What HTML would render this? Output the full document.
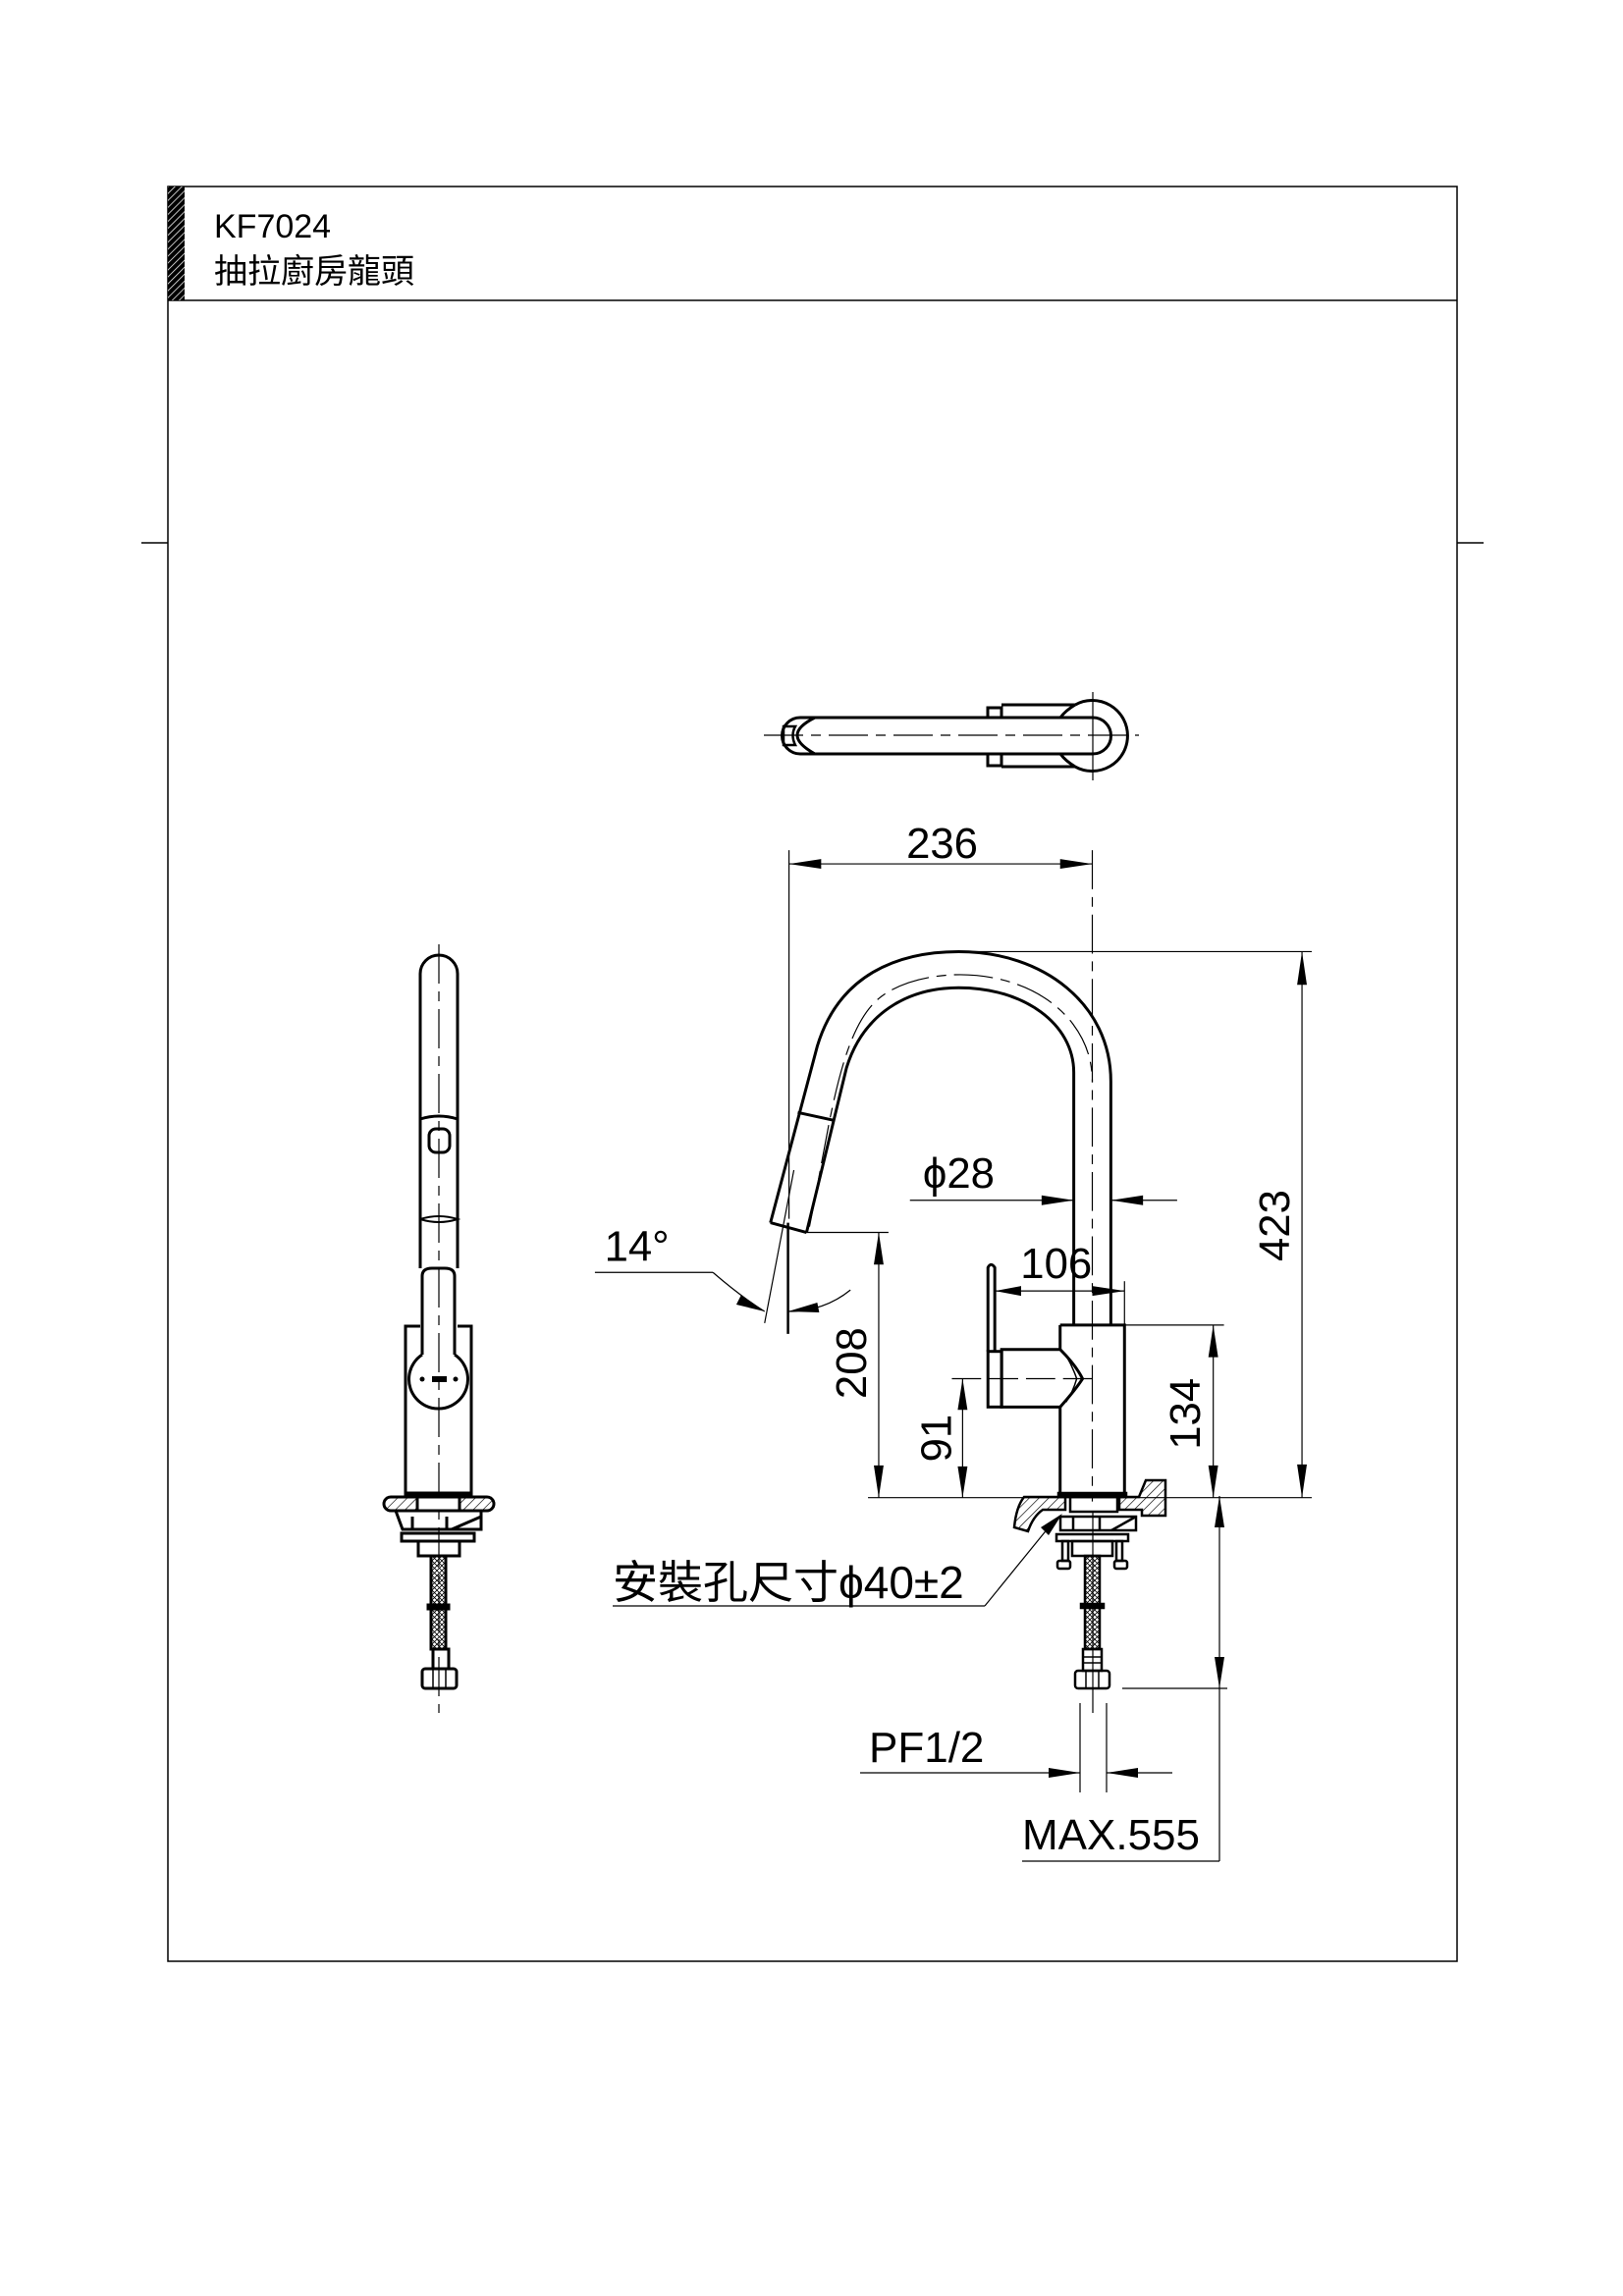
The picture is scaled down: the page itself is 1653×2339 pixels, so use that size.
<!DOCTYPE html>
<html><head><meta charset="utf-8"><style>
html,body{margin:0;padding:0;background:#fff}
svg{display:block}
text{font-family:"Liberation Sans","Noto Sans CJK TC",sans-serif;fill:#000}
</style></head><body>
<svg width="1653" height="2339" viewBox="0 0 1653 2339" xmlns="http://www.w3.org/2000/svg">
<defs>
<pattern id="h" width="7" height="7" patternUnits="userSpaceOnUse" patternTransform="rotate(45)"><line x1="0" y1="0" x2="0" y2="7" stroke="#000" stroke-width="1.3"/></pattern>
<pattern id="hb" width="5" height="5" patternUnits="userSpaceOnUse" patternTransform="rotate(45)"><rect width="5" height="5" fill="#000"/><line x1="0" y1="0" x2="0" y2="5" stroke="#fff" stroke-width="1.5"/></pattern>
<pattern id="x" width="5" height="5" patternUnits="userSpaceOnUse"><path d="M0 0L5 5M5 0L0 5" stroke="#000" stroke-width="0.8"/></pattern>
</defs>

<g fill="none" stroke="#000" stroke-width="1.5">
<rect x="171" y="190" width="1313" height="1808"/>
<line x1="171" y1="306" x2="1484" y2="306"/>
<line x1="144" y1="553" x2="171" y2="553"/>
<line x1="1484" y1="553" x2="1511" y2="553"/>
</g>
<rect x="171" y="190" width="17" height="116" fill="url(#hb)"/>
<text x="218" y="242" font-size="34">KF7024</text>
<text x="218" y="288" font-size="34" font-family="'Noto Sans CJK TC',sans-serif">抽拉廚房龍頭</text>

<g fill="none" stroke="#000" stroke-width="3">
<line x1="778" y1="749" x2="1160" y2="749" stroke-width="1.2" stroke-dasharray="40,8,10,8"/>
<line x1="1113" y1="705" x2="1113" y2="795" stroke-width="1.2"/>
<path d="M830 731 L1113 731 A18.5 18.5 0 0 1 1113 768 L830 768"/>
<path d="M830 731 Q812 740 812 749 Q812 758 830 768"/>
<path d="M830 731 L815 731 A18.5 18.5 0 0 0 815 768 L830 768"/>
<path d="M810 740 L798 740 L798 759 L810 759 Q805 749 810 740Z" stroke-width="2.5"/>
<path d="M1020 718 L1095 718"/>
<path d="M1020 781 L1095 781"/>
<path d="M1095 718 A36 36 0 1 1 1095 781 Q1085 775 1080 768" />
<path d="M1095 718 Q1085 724 1080 731"/>
<rect x="1006" y="721" width="14" height="10"/>
<rect x="1006" y="768" width="14" height="12"/>
</g>

<g transform="scale(0.9933)">
<g fill="none" stroke="#000" stroke-width="3">
<path d="M790 1254 L838 1073 C860 1000 920 976 983 976 C1070 976 1139 1030 1139 1109 L1139 1360"/>
<path d="M827 1264 L868 1095 C885 1040 930 1013 983 1013 C1050 1013 1101 1050 1101 1100 L1101 1360"/>
<path d="M790 1254 L827 1264"/>
<path d="M818 1141 L855 1149"/>
<path d="M1087 1359 L1153 1359 L1153 1536 M1087 1359 L1087 1384 M1087 1443 L1087 1536"/>
<path d="M1087 1384 L1027 1384 L1027 1443 L1087 1443 Q1103 1425 1110 1414 Q1103 1400 1087 1384"/>
<path d="M1093 1390 Q1100 1402 1104 1414 Q1100 1428 1093 1438" stroke-width="1.5"/>
<path d="M1013 1386 L1013 1300 Q1016 1294 1020 1300 L1020 1386"/>
<rect x="1013" y="1386" width="14" height="57"/>
</g>
<g fill="none" stroke="#000" stroke-width="1.2">
<path d="M830 1258 C850 1160 860 1060 900 1025 C940 990 1050 985 1100 1050 C1115 1070 1120 1090 1120 1110" stroke-dasharray="40,8,10,8"/>
<line x1="1120" y1="872" x2="1120" y2="1540" stroke-dasharray="40,8,10,8"/>
<line x1="809" y1="872" x2="809" y2="1250"/>
<line x1="809" y1="886" x2="1120" y2="886"/>
<line x1="983" y1="976" x2="1345" y2="976"/>
<line x1="1335" y1="976" x2="1335" y2="1536"/>
<line x1="890" y1="1536" x2="1345" y2="1536"/>
<line x1="933" y1="1231" x2="1101" y2="1231"/>
<line x1="1139" y1="1231" x2="1207" y2="1231"/>
<line x1="1153" y1="1359" x2="1255" y2="1359"/>
<line x1="1244" y1="1359" x2="1244" y2="1536"/>
<line x1="1020" y1="1324" x2="1153" y2="1324"/>
<line x1="1153" y1="1314" x2="1153" y2="1359"/>
<line x1="976" y1="1414" x2="1120" y2="1414" stroke-dasharray="30,8"/>
<line x1="987" y1="1414" x2="987" y2="1536"/>
<line x1="827" y1="1264" x2="911" y2="1264"/>
<line x1="901" y1="1264" x2="901" y2="1536"/>
<line x1="610" y1="1305" x2="731" y2="1305"/>
<path d="M731 1305 Q760 1330 784 1345"/>
<line x1="808" y1="1254" x2="808" y2="1368" stroke-width="2.5"/>
<line x1="814" y1="1200" x2="784" y2="1357"/>
<path d="M808 1345 Q845 1345 872 1323"/>
</g>
<g fill="#000">
<path d="M809 886 L842 881 L842 891Z"/>
<path d="M1120 886 L1087 881 L1087 891Z"/>
<path d="M1335 976 L1330 1010 L1340 1010Z"/>
<path d="M1335 1536 L1330 1502 L1340 1502Z"/>
<path d="M1101 1231 L1068 1226 L1068 1236Z"/>
<path d="M1139 1231 L1172 1226 L1172 1236Z"/>
<path d="M1244 1359 L1239 1392 L1249 1392Z"/>
<path d="M1244 1536 L1239 1503 L1249 1503Z"/>
<path d="M1020 1324 L1047 1319 L1047 1329Z"/>
<path d="M1153 1324 L1120 1319 L1120 1329Z"/>
<path d="M987 1414 L982 1446 L992 1446Z"/>
<path d="M987 1536 L982 1504 L992 1504Z"/>
<path d="M901 1264 L896 1297 L906 1297Z"/>
<path d="M901 1536 L896 1503 L906 1503Z"/>
<path d="M784 1345 L760 1328 L755 1338Z"/>
<path d="M808 1345 L838 1336 L840 1346Z"/>
</g>
<g font-size="44">
<text x="966" y="880" text-anchor="middle">236</text>
<text x="983" y="1218" text-anchor="middle">ϕ28</text>
<text x="1083" y="1311" text-anchor="middle">106</text>
<text x="653" y="1293" text-anchor="middle">14°</text>
<text transform="translate(1322 1257) rotate(-90)" text-anchor="middle">423</text>
<text transform="translate(1230 1450) rotate(-90)" text-anchor="middle">134</text>
<text transform="translate(975 1475) rotate(-90)" text-anchor="middle">91</text>
<text transform="translate(888 1398) rotate(-90)" text-anchor="middle">208</text>
</g>
</g>

<g stroke="#000" stroke-width="2.5">
<path d="M1043 1525 L1085 1525 L1085 1538 L1062 1538 Q1052 1545 1047 1560 L1033 1556 Q1035 1535 1043 1525Z" fill="url(#h)"/>
<path d="M1140 1525 L1160 1525 L1167 1508 L1187 1508 L1187 1544 L1163 1544 L1163 1538 L1140 1538Z" fill="url(#h)"/>
<rect x="1078" y="1521" width="69" height="4" fill="#000"/>
<g fill="none">
<rect x="1090" y="1525" width="48" height="15"/>
<rect x="1080" y="1545" width="77" height="14"/>
<line x1="1093" y1="1545" x2="1093" y2="1559"/>
<line x1="1120" y1="1545" x2="1120" y2="1559"/>
<line x1="1132" y1="1559" x2="1157" y2="1545"/>
<rect x="1076" y="1563" width="73" height="7"/>
<rect x="1082" y="1570" width="6" height="20"/>
<rect x="1077" y="1590" width="13" height="8" rx="2"/>
<rect x="1137" y="1570" width="6" height="20"/>
<rect x="1135" y="1590" width="13" height="8" rx="2"/>
<rect x="1092" y="1570" width="41" height="15"/>
<rect x="1105" y="1585" width="15" height="95" fill="url(#x)"/>
<rect x="1101" y="1634" width="23" height="4" fill="#000"/>
<rect x="1103" y="1680" width="19" height="22"/>
<line x1="1103" y1="1688" x2="1122" y2="1688" stroke-width="1.5"/>
<line x1="1103" y1="1694" x2="1122" y2="1694" stroke-width="1.5"/>
<rect x="1095" y="1702" width="35" height="18" rx="3"/>
<line x1="1106" y1="1702" x2="1106" y2="1720" stroke-width="1.5"/>
<line x1="1119" y1="1702" x2="1119" y2="1720" stroke-width="1.5"/>
</g>
</g>
<g fill="none" stroke="#000" stroke-width="1.2">
<line x1="1113" y1="1540" x2="1113" y2="1745"/>
<line x1="1143" y1="1720" x2="1250" y2="1720"/>
<line x1="1100" y1="1735" x2="1100" y2="1826"/>
<line x1="1127" y1="1735" x2="1127" y2="1826"/>
<line x1="876" y1="1806" x2="1100" y2="1806"/>
<line x1="1127" y1="1806" x2="1194" y2="1806"/>
<line x1="1242" y1="1524" x2="1242" y2="1896"/>
<line x1="1041" y1="1896" x2="1242" y2="1896"/>
<line x1="624" y1="1636" x2="1003" y2="1636"/>
<line x1="1003" y1="1636" x2="1068" y2="1556"/>
</g>
<g fill="#000">
<path d="M1100 1806 L1068 1801 L1068 1811Z"/>
<path d="M1127 1806 L1159 1801 L1159 1811Z"/>
<path d="M1242 1524 L1237 1556 L1247 1556Z"/>
<path d="M1242 1720 L1237 1688 L1247 1688Z"/>
<path d="M1082 1542 L1060 1556 L1068 1564Z"/>
</g>
<text x="885" y="1795" font-size="44">PF1/2</text>
<text x="1041" y="1884" font-size="44">MAX.555</text>
<text x="624" y="1628" font-size="46" font-family="'Liberation Sans','Noto Sans CJK TC',sans-serif">安裝孔尺寸ϕ40±2</text>

<g fill="none" stroke="#000" stroke-width="3">
<line x1="447" y1="962" x2="447" y2="1745" stroke-width="1.2" stroke-dasharray="40,8,10,8"/>
<path d="M428 1292 L428 992 A19 19 0 0 1 466 992 L466 1292"/>
<path d="M428 1140 Q447 1134 466 1140"/>
<path d="M428 1242 Q447 1236 466 1242 Q447 1248 428 1242" stroke-width="2"/>
<rect x="437" y="1150" width="21" height="24" rx="7"/>
<path d="M430 1380 L430 1300 Q430 1292 440 1292 L453 1292 Q463 1292 463 1300 L463 1380"/>
<path d="M430 1380 A30 30 0 1 0 463 1380"/>
<path d="M428 1351 L413 1351 L413 1522 L480 1522 L480 1351 L466 1351"/>
<line x1="413" y1="1522" x2="480" y2="1522" stroke-width="5"/>
<path d="M398 1525 L496 1525 A7 7 0 0 1 496 1539 L398 1539 A7 7 0 0 1 398 1525Z" fill="url(#h)"/>
<rect x="425" y="1525" width="43" height="14" fill="#fff"/>
<path d="M403 1539 L490 1539 L490 1558 L410 1558Z"/>
<line x1="420" y1="1545" x2="420" y2="1558"/>
<line x1="455" y1="1545" x2="455" y2="1558"/>
<line x1="460" y1="1558" x2="490" y2="1545"/>
<rect x="409" y="1562" width="74" height="8"/>
<rect x="426" y="1570" width="42" height="15"/>
<rect x="439" y="1585" width="15" height="95" fill="url(#x)"/>
<rect x="436" y="1635" width="21" height="4" fill="#000"/>
<rect x="441" y="1680" width="16" height="20"/>
<rect x="430" y="1700" width="35" height="20" rx="3"/>
<line x1="441" y1="1700" x2="441" y2="1720" stroke-width="1.5"/>
<line x1="454" y1="1700" x2="454" y2="1720" stroke-width="1.5"/>
</g>
<g fill="#000"><circle cx="430" cy="1405" r="2.5"/><circle cx="464" cy="1405" r="2.5"/><rect x="440" y="1402" width="15" height="6"/></g>
</svg>
</body></html>
